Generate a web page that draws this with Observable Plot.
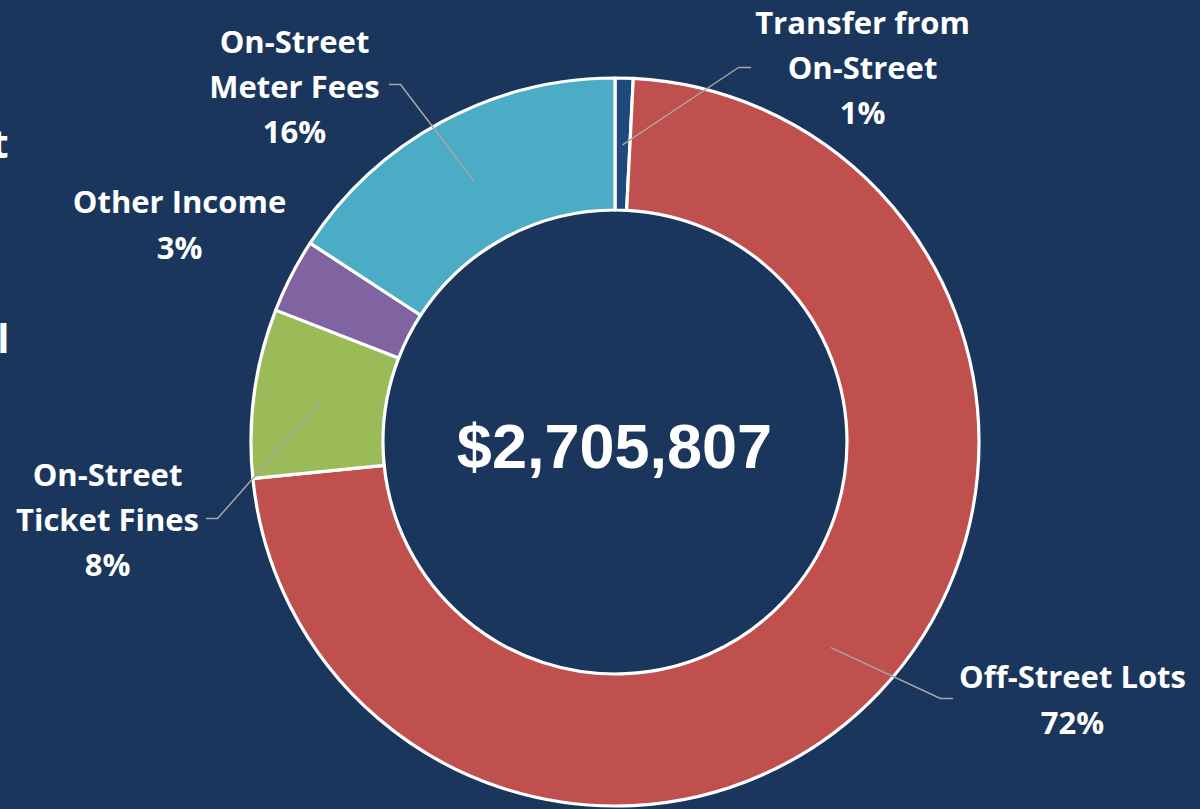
<!DOCTYPE html>
<html><head><meta charset="utf-8">
<script src="https://cdn.jsdelivr.net/npm/d3@7"></script>
<script src="https://cdn.jsdelivr.net/npm/@observablehq/plot@0.6"></script>
<style>
html,body{margin:0;padding:0;background:#1a365d;overflow:hidden;width:1200px;height:809px}
#chart svg{display:block}
</style></head><body><div id="chart"></div>
<script>
// ---- data ----
const categories = ["Transfer from On-Street", "Off-Street Lots", "On-Street Ticket Fines", "Other Income", "On-Street Meter Fees"];
const shares = [0.8, 72.6, 7.5, 3.3, 15.8];           // percent of total
const percentLabels = ["1%", "72%", "8%", "3%", "16%"];
const nameLines = ["Transfer from\nOn-Street", "Off-Street Lots", "On-Street\nTicket Fines", "Other Income", "On-Street\nMeter Fees"];
const totalLabel = "$2,705,807";
const edgeFragments = ["t", "l"];                     // cut-off slide text at left edge

// ---- layout / style (not data) ----
const W = 1200, H = 809;
const colors = ["#1f497d", "#c0504d", "#9bbb59", "#8064a2", "#4bacc6"];
const ring = {cx: 615, cy: 442, outer: 364, inner: 232};
const labelPos = [
  {x: 862, y: 64, leader: [[750, 67], [738, 67]]},
  {x: 1072, y: 696, leader: [[952, 698], [940, 698]]},
  {x: 107, y: 516, leader: [[206, 518], [217, 518]]},
  {x: 179, y: 221, leader: null},
  {x: 294, y: 83, leader: [[389, 84], [400, 84]]}
];
const fragmentPos = [{x: 8, y: 157}, {x: 9, y: 352}];

const slices = categories.map((c, i) => ({category: c, share: shares[i], color: colors[i],
  label: nameLines[i] + "\n" + percentLabels[i], ...labelPos[i]}));

const pie = d3.pie().value(d => d.share).sort(null);
const arcs = pie(slices);
const arcGen = d3.arc().innerRadius(ring.inner).outerRadius(ring.outer);

// leader lines: elbow from label, then to the slice's centroid
const leaderPts = [];
arcs.forEach((a, i) => {
  const s = a.data;
  if (!s.leader) return;
  const [mx, my] = arcGen.centroid(a);
  s.leader.forEach(([x, y]) => leaderPts.push({k: s.category, x, y}));
  leaderPts.push({k: s.category, x: ring.cx + mx, y: ring.cy + my});
});

function donutMark(index, scales) {
  const sx = scales && scales.x ? scales.x : (v => v);
  const sy = scales && scales.y ? scales.y : (v => v);
  const g = d3.create("svg:g").attr("transform", `translate(${sx(ring.cx)},${sy(ring.cy)})`);
  g.selectAll("path").data(arcs).join("path")
    .attr("d", arcGen)
    .attr("fill", d => d.data.color)
    .attr("stroke", "#ffffff")
    .attr("stroke-width", 3.2)
    .attr("stroke-linejoin", "round");
  return g.node();
}

const font = "'Open Sans', 'DejaVu Sans', sans-serif";

const chart = Plot.plot({
  width: W, height: H, margin: 0,
  style: {background: "#1a365d", fontFamily: font},
  x: {domain: [0, W], range: [0, W], axis: null},
  y: {domain: [0, H], range: [0, H], axis: null},
  marks: [
    donutMark,
    Plot.line(leaderPts, {x: "x", y: "y", z: "k", stroke: "#a6a6a6", strokeWidth: 1.5}),
    Plot.text(slices, {x: "x", y: "y", text: "label", fill: "#ffffff", fontSize: 31, fontWeight: 700,
      lineHeight: 1.46, lineAnchor: "middle", textAnchor: "middle", fontFamily: font}),
    Plot.text([totalLabel], {x: [ring.cx - 1], y: [ring.cy + 5], text: d => d, fill: "#ffffff",
      fontSize: 63, fontWeight: 700, fontFamily: "'Liberation Sans', Arial, sans-serif", textAnchor: "middle", lineAnchor: "middle"}),
    Plot.text(edgeFragments, {x: fragmentPos.map(p => p.x), y: fragmentPos.map(p => p.y), text: d => d,
      fill: "#ffffff", fontSize: 40, fontWeight: 700, textAnchor: "end", lineAnchor: "bottom", fontFamily: font})
  ]
});
document.getElementById("chart").appendChild(chart);
</script>
</body></html>
